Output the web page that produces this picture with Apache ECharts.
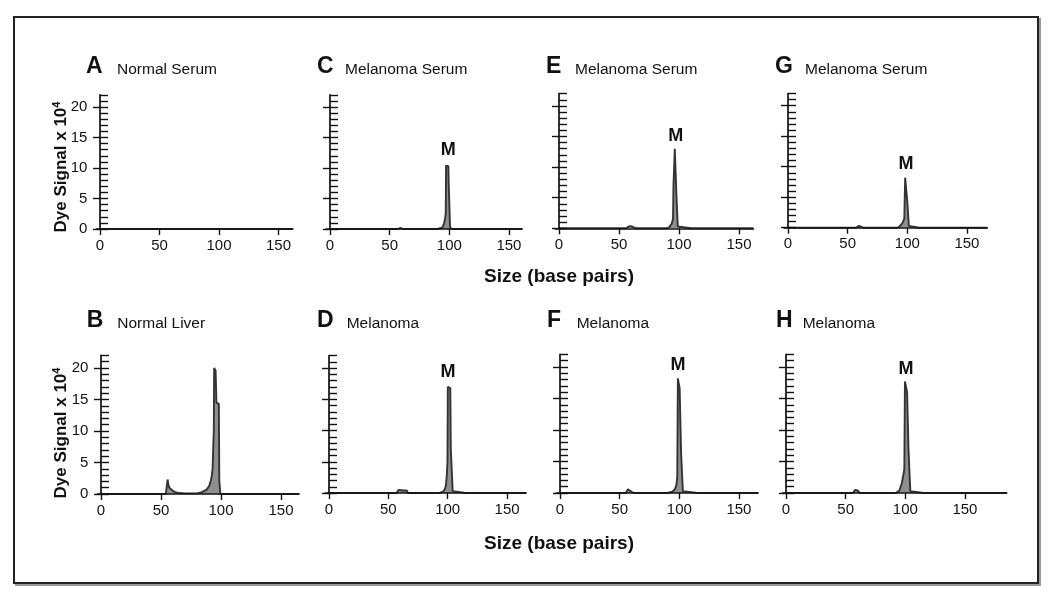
<!DOCTYPE html>
<html><head><meta charset="utf-8">
<script src="https://cdn.jsdelivr.net/npm/echarts@6/dist/echarts.min.js"></script>
<style>html,body{margin:0;padding:0;background:#fff}#c{width:1050px;height:596px}</style>
</head><body><div id="c"></div>
<script>
// ---- data ----
const xTicks = [0, 50, 100, 150];
const yTicks = [0, 5, 10, 15, 20];
const panelLetters = ['A', 'C', 'E', 'G', 'B', 'D', 'F', 'H'];
const panelNames = ['Normal Serum', 'Melanoma Serum', 'Melanoma Serum', 'Melanoma Serum',
                    'Normal Liver', 'Melanoma', 'Melanoma', 'Melanoma'];

const sizeA   = [0, 40, 80, 120, 162];
const signalA = [0, 0, 0, 0, 0];

const sizeC   = [0, 30, 57, 59, 61, 90, 94, 95.5, 96.5, 97.0, 97.3, 99.2, 99.5, 100.2, 100.6, 101.5, 110, 130, 150, 161];
const signalC = [0, 0, 0, 0.2, 0, 0, 0.2, 0.8, 1.8, 2.4, 10.4, 10.3, 7.5, 7.4, 0.4, 0, 0, 0, 0, 0];

const sizeE   = [0, 30, 56, 58, 60, 62, 64, 90, 92, 94, 95, 95.4, 96.2, 96.5, 97.6, 97.9, 98.6, 99.0, 100, 110, 130, 150, 162];
const signalE = [0, 0, 0, 0.3, 0.35, 0.2, 0, 0, 0.2, 0.8, 1.5, 7.0, 7.2, 13.0, 12.8, 5.2, 5.0, 0.3, 0, 0, 0, 0, 0];

const sizeG   = [0, 30, 57, 59.5, 61, 63, 92, 94, 96, 97.5, 98.2, 99.6, 100, 100.8, 101.3, 102, 110, 130, 150, 167];
const signalG = [0, 0, 0, 0.3, 0.3, 0, 0, 0.3, 0.8, 1.5, 8.2, 8.0, 4.3, 4.2, 0.3, 0, 0, 0, 0, 0];

const sizeB   = [0, 30, 54, 54.8, 55.5, 56.2, 57, 58, 60, 62, 65, 70, 75, 80, 84, 86, 88, 90, 91, 92, 93, 93.5, 94, 94.3, 95.5, 96.2, 96.5, 98.2, 98.6, 99.5, 110, 130, 150, 165];
const signalB = [0, 0, 0, 1.2, 2.3, 1.4, 1.0, 0.8, 0.5, 0.3, 0.15, 0.1, 0.1, 0.1, 0.3, 0.5, 0.7, 1.2, 1.8, 2.5, 4.0, 7.2, 10, 20, 19.6, 14.5, 14.5, 14.3, 2.0, 0, 0, 0, 0, 0];

const sizeD   = [0, 30, 57, 58.5, 60, 63, 65.5, 66.5, 93, 96, 97.5, 98.5, 99.3, 99.8, 100.1, 102.2, 102.6, 103.8, 104.2, 105, 115, 130, 150, 166];
const signalD = [0, 0, 0, 0.5, 0.5, 0.4, 0.4, 0, 0, 0.2, 0.6, 1.2, 3.0, 5.0, 17.0, 16.8, 7.1, 7.0, 0.3, 0, 0, 0, 0, 0];

const sizeF   = [0, 30, 55, 57, 58.5, 60, 62, 90, 94, 96, 97.5, 98.3, 98.8, 99.6, 100.3, 101.1, 101.5, 102.5, 103, 104, 115, 130, 150, 166];
const signalF = [0, 0, 0, 0.6, 0.5, 0.2, 0, 0, 0.2, 0.5, 1.2, 2.5, 18.2, 18.0, 16.6, 16.4, 6.3, 6.2, 0.3, 0, 0, 0, 0, 0];

const sizeH   = [0, 30, 56, 58, 60, 62, 92, 95, 97, 98.5, 99.2, 99.7, 100.8, 101.5, 102.4, 102.7, 103.7, 104.2, 105, 115, 130, 150, 170, 185];
const signalH = [0, 0, 0, 0.5, 0.4, 0, 0, 0.4, 1.5, 3.0, 3.8, 17.7, 17.5, 16.0, 16.0, 6.8, 6.7, 0.3, 0, 0, 0, 0, 0, 0];

const sizes   = [sizeA, sizeC, sizeE, sizeG, sizeB, sizeD, sizeF, sizeH];
const signals = [signalA, signalC, signalE, signalG, signalB, signalD, signalF, signalH];

// "M" annotation anchor (size, signal) per panel; null = none
const peakLabelSize   = [null, 99.2, 97.2, 98.9, 95.8, 100.3, 98.9, 100.6];
const peakLabelSignal = [null, 13.0, 15.0, 10.5, 22.1, 19.3, 20.3, 19.6];

// ---- layout (pixels) ----
const layout = [
  {x0: 100, y0: 229,   sx: 1.19,  sy: 6.1,  xmax: 162, yLabels: true,  lx: 86,    nx: 117,   ty: 67},
  {x0: 330, y0: 229,   sx: 1.193, sy: 6.1,  xmax: 161, yLabels: false, lx: 317,   nx: 345,   ty: 67},
  {x0: 559, y0: 228.3, sx: 1.2,   sy: 6.12, xmax: 162, yLabels: false, lx: 546,   nx: 575,   ty: 67},
  {x0: 788, y0: 227.7, sx: 1.193, sy: 6.1,  xmax: 167, yLabels: false, lx: 775,   nx: 805,   ty: 67},
  {x0: 101, y0: 494,   sx: 1.2,   sy: 6.3,  xmax: 165, yLabels: true,  lx: 86.7,  nx: 117.3, ty: 321},
  {x0: 329, y0: 493,   sx: 1.187, sy: 6.25, xmax: 166, yLabels: false, lx: 317,   nx: 346.7, ty: 321},
  {x0: 560, y0: 493,   sx: 1.193, sy: 6.3,  xmax: 166, yLabels: false, lx: 547,   nx: 576.7, ty: 321},
  {x0: 786, y0: 493,   sx: 1.193, sy: 6.3,  xmax: 185, yLabels: false, lx: 776,   nx: 802.7, ty: 321}
];
const XMIN = -3, YMAX = 22;
const FONT = '"Liberation Sans", Arial, Helvetica, sans-serif';
const INK = '#111';

const grids = [], xAxes = [], yAxes = [], series = [], graphics = [];

graphics.push({type: 'rect', z: -20, shape: {x: 16, y: 19, width: 1024, height: 566},
  style: {fill: 'none', stroke: '#999', lineWidth: 2}});
graphics.push({type: 'rect', z: -19, shape: {x: 14, y: 17, width: 1024, height: 566},
  style: {fill: '#fff', stroke: '#222', lineWidth: 2}});

layout.forEach((g, i) => {
  grids.push({left: g.x0 + XMIN * g.sx, top: g.y0 - YMAX * g.sy,
              width: (g.xmax - XMIN) * g.sx, height: YMAX * g.sy,
              containLabel: false, outerBoundsMode: 'none'});
  // visible x axis
  xAxes.push({gridIndex: i, type: 'value', position: 'bottom', min: XMIN, max: g.xmax, z: 5,
    axisLine: {onZero: false, lineStyle: {color: INK, width: 1.7}},
    axisTick: {customValues: xTicks, length: 6, lineStyle: {color: INK, width: 1.4}},
    axisLabel: {customValues: xTicks, fontSize: 15, color: INK, margin: 9, fontFamily: FONT},
    splitLine: {show: false}});
  // hidden x axis (zero reference for the overlay y axis)
  xAxes.push({gridIndex: i, type: 'value', position: 'bottom', min: XMIN, max: g.xmax, show: false,
    axisLine: {onZero: false}, splitLine: {show: false}});
  // main y axis: unit ticks pointing right
  yAxes.push({gridIndex: i, type: 'value', position: 'left', min: 0, max: YMAX, interval: 1, z: 5,
    axisLine: {show: true, onZero: true, onZeroAxisIndex: 2 * i, lineStyle: {color: INK, width: 1.7}},
    axisTick: {show: true, inside: true, length: 8, lineStyle: {color: INK, width: 1.4}},
    axisLabel: {show: g.yLabels, customValues: yTicks, fontSize: 15, color: INK, margin: 9, fontFamily: FONT},
    splitLine: {show: false}});
  // overlay y axis: major ticks pointing left
  yAxes.push({gridIndex: i, type: 'value', position: 'left', min: 0, max: YMAX, interval: 1, z: 5,
    axisLine: {show: false, onZero: true, onZeroAxisIndex: 2 * i + 1},
    axisTick: {show: true, inside: false, length: 7, customValues: yTicks, lineStyle: {color: INK, width: 1.4}},
    axisLabel: {show: false}, splitLine: {show: false}});

  const s = {
    type: 'line', xAxisIndex: 2 * i, yAxisIndex: 2 * i, clip: false,
    showSymbol: false, symbol: 'none', animation: false, z: 1,
    data: sizes[i].map((x, k) => [x, signals[i][k]]),
    lineStyle: {color: '#333', width: 1.9},
    areaStyle: {color: 'rgba(55,55,55,0.8)'}
  };
  if (peakLabelSize[i] != null) {
    s.markPoint = {
      symbol: 'rect', symbolSize: 1, itemStyle: {color: 'rgba(0,0,0,0)'}, animation: false,
      label: {show: true, position: 'inside', formatter: 'M', fontSize: 18, fontWeight: 'bold',
              color: INK, fontFamily: FONT},
      data: [{coord: [peakLabelSize[i], peakLabelSignal[i]]}]
    };
  }
  series.push(s);

  graphics.push({type: 'text', x: g.lx, y: g.ty, style: {text: panelLetters[i],
    font: 'bold 23px ' + FONT, fill: INK, align: 'left', verticalAlign: 'middle'}});
  graphics.push({type: 'text', x: g.nx, y: g.ty + 2.5, style: {text: panelNames[i],
    font: '15.5px ' + FONT, fill: INK, align: 'left', verticalAlign: 'middle'}});
});

const yName = {
  text: '{t|Dye Signal x 10}{s|4}',
  rich: {
    t: {fontSize: 17, fontWeight: 'bold', fontFamily: FONT, fill: INK, lineHeight: 20},
    s: {fontSize: 11, fontWeight: 'bold', fontFamily: FONT, fill: INK, lineHeight: 12, verticalAlign: 'top'}
  },
  align: 'center', verticalAlign: 'middle'
};
graphics.push({type: 'text', x: 61, y: 167, rotation: Math.PI / 2, style: Object.assign({}, yName)});
graphics.push({type: 'text', x: 61, y: 433, rotation: Math.PI / 2, style: Object.assign({}, yName)});
graphics.push({type: 'text', x: 559, y: 277, style: {text: 'Size (base pairs)', font: 'bold 19px ' + FONT,
  fill: INK, align: 'center', verticalAlign: 'middle'}});
graphics.push({type: 'text', x: 559, y: 543.5, style: {text: 'Size (base pairs)', font: 'bold 19px ' + FONT,
  fill: INK, align: 'center', verticalAlign: 'middle'}});

const chart = echarts.init(document.getElementById('c'), null, {renderer: 'canvas'});
chart.setOption({
  animation: false,
  backgroundColor: '#fff',
  grid: grids, xAxis: xAxes, yAxis: yAxes, series: series,
  graphic: {elements: graphics}
});
</script></body></html>
